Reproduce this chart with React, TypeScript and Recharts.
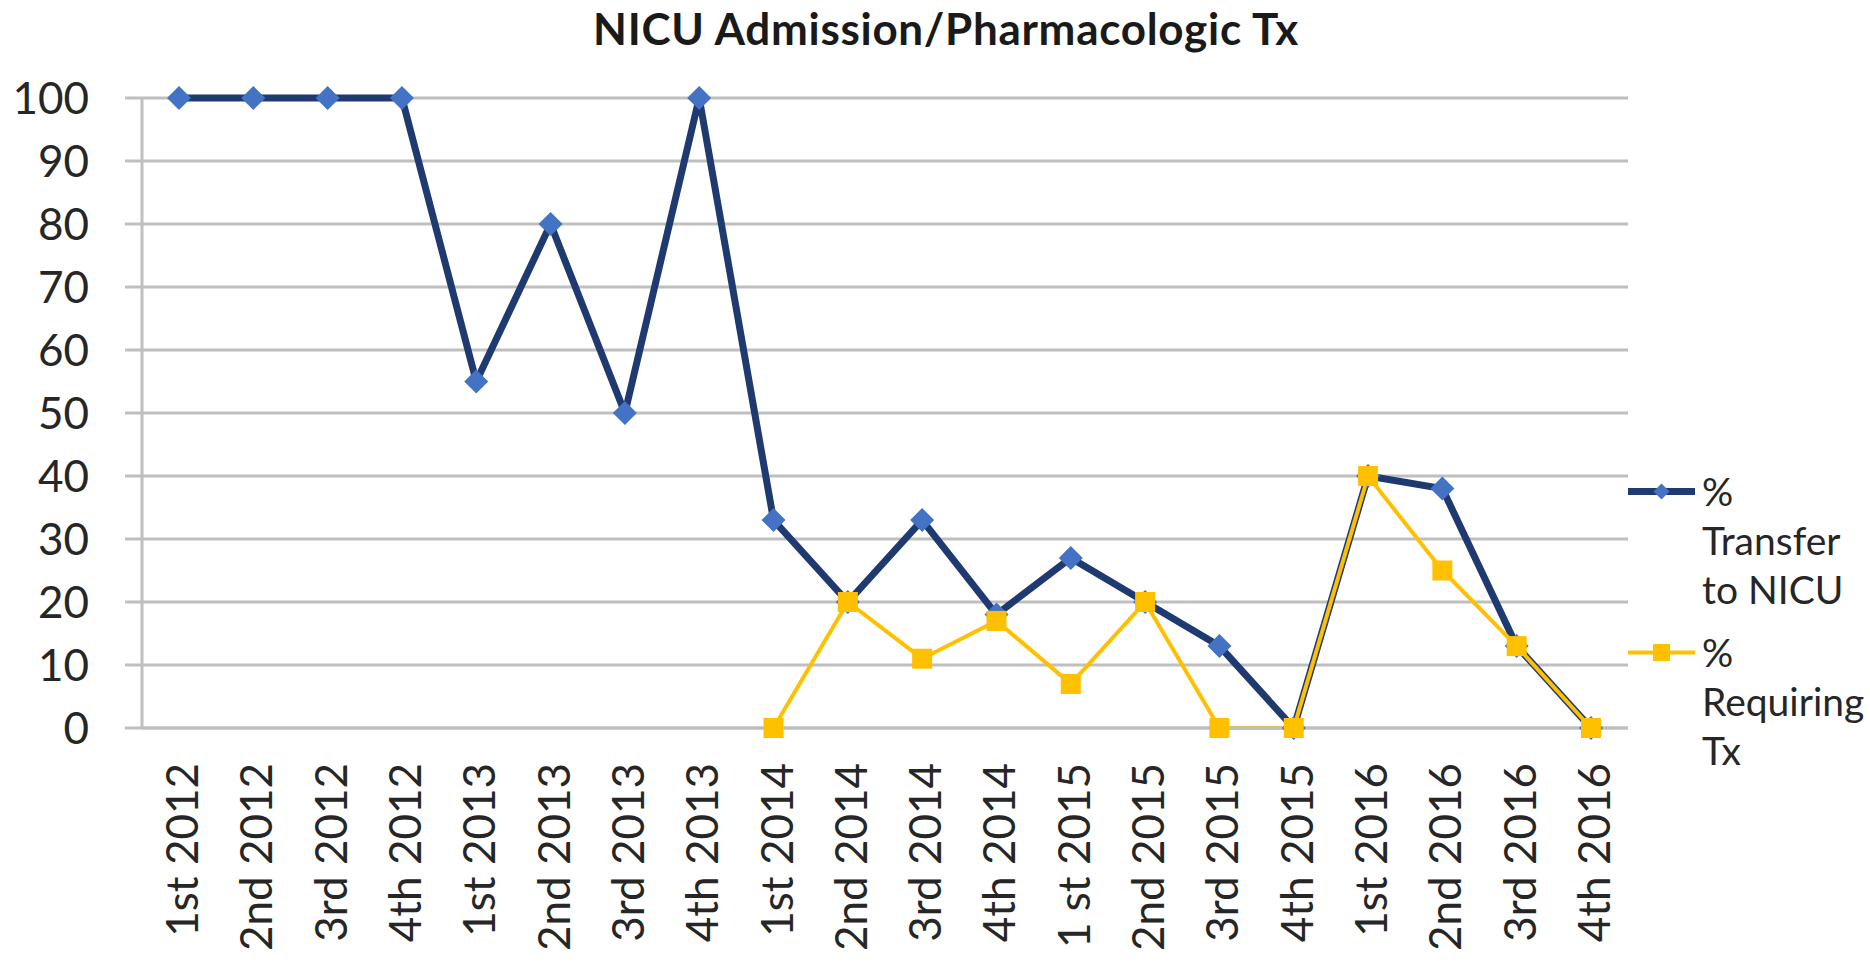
import React from 'react';
import { LineChart, Line, XAxis, YAxis, CartesianGrid, Legend } from 'recharts';

const chartTitle = 'NICU Admission/Pharmacologic Tx';

const categories = [
  '1st 2012', '2nd 2012', '3rd 2012', '4th 2012',
  '1st 2013', '2nd 2013', '3rd 2013', '4th 2013',
  '1st 2014', '2nd 2014', '3rd 2014', '4th 2014',
  '1 st 2015', '2nd 2015', '3rd 2015', '4th 2015',
  '1st 2016', '2nd 2016', '3rd 2016', '4th 2016',
];

const transferToNicu = [100, 100, 100, 100, 55, 80, 50, 100, 33, 20, 33, 18, 27, 20, 13, 0, 40, 38, 13, 0];
const requiringTx = [null, null, null, null, null, null, null, null, 0, 20, 11, 17, 7, 20, 0, 0, 40, 25, 13, 0];

const yTicks = [0, 10, 20, 30, 40, 50, 60, 70, 80, 90, 100];

const seriesNames = ['% Transfer to NICU', '% Requiring Tx'];

const data = categories.map((q, i) => ({
  quarter: q,
  transfer: transferToNicu[i],
  tx: requiringTx[i],
}));

const FONT = 'Lato, "Open Sans", sans-serif';
const TEXT = '#262626';
const GRID = '#BFBFBF';
const NAVY = '#1F3A70';
const BLUE_MARK = '#4472C4';
const GOLD = '#FFC000';

const Diamond = (props: any) => {
  const { cx, cy, index } = props;
  if (cx == null || cy == null) return <g key={`d-${index}`} />;
  const r = 12;
  return (
    <path
      key={`d-${index}`}
      d={`M${cx},${cy - r} L${cx + r},${cy} L${cx},${cy + r} L${cx - r},${cy} Z`}
      fill={BLUE_MARK}
    />
  );
};

const Square = (props: any) => {
  const { cx, cy, index } = props;
  if (cx == null || cy == null) return <g key={`s-${index}`} />;
  const r = 10;
  return <rect key={`s-${index}`} x={cx - r} y={cy - r} width={2 * r} height={2 * r} fill={GOLD} />;
};

const XTick = (props: any) => {
  const { x, y, payload } = props;
  return (
    <text
      x={x}
      y={y}
      dy={19}
      transform={`rotate(-90, ${x}, ${y})`}
      textAnchor="end"
      fontFamily={FONT}
      fontSize={44}
      fill={TEXT}
    >
      {payload.value}
    </text>
  );
};

const LegendContent = (props: any) => {
  const items = [...(props.payload || [])].sort(
    (a: any, b: any) => seriesNames.indexOf(a.value) - seriesNames.indexOf(b.value)
  );
  return (
    <div style={{ fontFamily: FONT, fontSize: 39, lineHeight: '49px', color: TEXT }}>
      {items.map((p: any, i: number) => {
        const isTransfer = p.dataKey === 'transfer';
        return (
          <div key={i} style={{ display: 'flex', alignItems: 'flex-start', marginBottom: 14 }}>
            <svg width={82} height={49} style={{ flex: 'none' }}>
              <line
                x1={8}
                x2={75}
                y1={24.5}
                y2={24.5}
                stroke={isTransfer ? NAVY : GOLD}
                strokeWidth={isTransfer ? 7 : 4}
              />
              {isTransfer ? (
                <path d="M41.5,16.5 L49.5,24.5 L41.5,32.5 L33.5,24.5 Z" fill={BLUE_MARK} />
              ) : (
                <rect x={33} y={16} width={17} height={17} fill={GOLD} />
              )}
            </svg>
            <div style={{ width: 168 }}>{p.value}</div>
          </div>
        );
      })}
    </div>
  );
};

export default function App() {
  return (
    <div style={{ position: 'absolute', left: 0, top: 0, width: 1870, height: 965, background: '#fff' }}>
      <LineChart
        width={1870}
        height={965}
        data={data}
        margin={{ top: 98, right: 242, bottom: 0, left: 0 }}
      >
        <text
          x={946}
          y={45}
          textAnchor="middle"
          fontFamily={FONT}
          fontWeight={700}
          fontSize={44}
          letterSpacing={0.7}
          fill="#1a1a1a"
        >
          {chartTitle}
        </text>
        <CartesianGrid vertical={false} stroke={GRID} strokeWidth={3} />
        <XAxis
          dataKey="quarter"
          interval={0}
          padding={{ left: 37, right: 37 }}
          axisLine={{ stroke: GRID, strokeWidth: 3 }}
          tickLine={false}
          tickSize={0}
          tickMargin={35}
          height={237}
          tick={<XTick />}
        />
        <YAxis
          domain={[0, 100]}
          ticks={yTicks}
          interval={0}
          width={142}
          axisLine={{ stroke: GRID, strokeWidth: 3 }}
          tickLine={{ stroke: GRID, strokeWidth: 3 }}
          tickSize={17}
          tickMargin={36}
          tick={{ fontFamily: FONT, fontSize: 44, fill: TEXT }}
        />
        <Legend
          layout="vertical"
          align="center"
          verticalAlign="middle"
          content={<LegendContent />}
          wrapperStyle={{ left: 1620, top: 467, width: 250 }}
        />
        <Line
          type="linear"
          dataKey="transfer"
          name={seriesNames[0]}
          stroke={NAVY}
          strokeWidth={7}
          dot={Diamond}
          activeDot={false}
          isAnimationActive={false}
        />
        <Line
          type="linear"
          dataKey="tx"
          name={seriesNames[1]}
          stroke={GOLD}
          strokeWidth={4}
          dot={Square}
          activeDot={false}
          isAnimationActive={false}
        />
      </LineChart>
    </div>
  );
}
